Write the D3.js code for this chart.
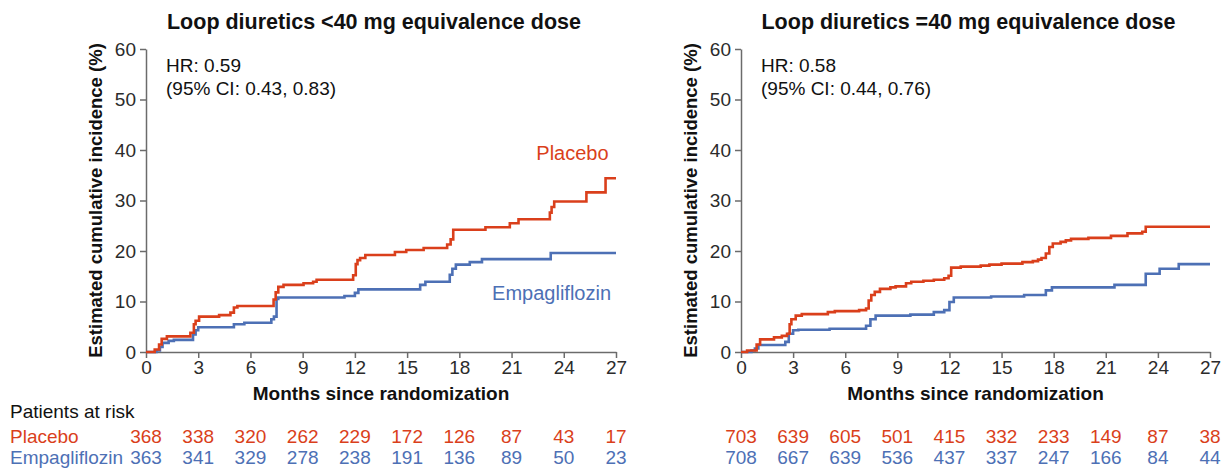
<!DOCTYPE html>
<html>
<head>
<meta charset="utf-8">
<script src="https://cdn.jsdelivr.net/npm/d3@7"></script>
<style>
  body { margin: 0; background: #fff; }
  svg { display: block; font-family: Arial, "Liberation Sans", sans-serif; }
  .axis path, .axis line { stroke: #6b6b6b; stroke-width: 1.5; }
  .axis text { fill: #2b2b2b; font-size: 19px; }
</style>
</head>
<body>
<div id="chart"></div>
<script>
// Panel titles and hazard ratios
const titles = ['Loop diuretics <40 mg equivalence dose', 'Loop diuretics =40 mg equivalence dose'];
const hrText = ['HR: 0.59', 'HR: 0.58'];
const ciText = ['(95% CI: 0.43, 0.83)', '(95% CI: 0.44, 0.76)'];

// Tick labels
const monthTicks = [0, 3, 6, 9, 12, 15, 18, 21, 24, 27];
const pctTicks = [0, 10, 20, 30, 40, 50, 60];

// Cumulative incidence steps: [month, %]
const leftPlacebo = [
  [0, 0], [0.5, 0.5], [0.75, 1.5], [0.9, 2.6], [1.2, 3.1], [2.55, 3.8], [2.75, 5.5], [2.85, 6.2],
  [3.05, 7.0], [4.2, 7.3], [4.85, 7.8], [5.05, 8.8], [5.25, 9.1], [7.33, 10.4], [7.45, 11.8],
  [7.6, 12.9], [7.9, 13.3], [9.05, 13.6], [9.6, 13.9], [9.8, 14.3], [11.9, 15.2], [12.05, 17.4],
  [12.15, 18.2], [12.3, 18.6], [12.6, 19.2], [14.3, 19.8], [14.95, 20.2], [15.95, 20.6],
  [17.3, 21.3], [17.5, 22.3], [17.65, 24.2], [19.5, 24.7], [20.9, 25.5], [21.4, 26.3],
  [23.2, 27.6], [23.3, 28.7], [23.45, 29.8], [25.3, 31.6], [26.4, 34.4], [27, 34.4]
];
const leftEmpa = [
  [0, 0], [0.6, 0.3], [0.8, 1.0], [0.95, 1.8], [1.3, 2.2], [1.6, 2.4], [2.7, 3.5], [2.85, 4.3],
  [3.0, 4.9], [5.05, 5.5], [5.65, 5.8], [7.2, 6.5], [7.35, 7.0], [7.5, 10.5], [7.6, 10.8],
  [11.4, 11.1], [12.0, 11.7], [12.2, 12.4], [15.75, 13.3], [16.05, 13.9], [17.45, 15.3],
  [17.6, 16.5], [17.8, 17.3], [18.6, 17.8], [19.3, 18.4], [23.25, 19.6], [27, 19.6]
];
const rightPlacebo = [
  [0, 0], [0.35, 0.3], [0.9, 1.5], [1.1, 2.5], [1.9, 2.9], [2.35, 3.2], [2.65, 3.6], [2.8, 5.5],
  [2.9, 6.5], [3.15, 7.2], [3.5, 7.5], [5.0, 7.9], [5.4, 8.1], [6.8, 8.3], [7.2, 8.6],
  [7.35, 10.2], [7.5, 11.3], [7.7, 11.9], [8.0, 12.5], [8.6, 12.8], [8.9, 13.0], [9.5, 13.6],
  [9.8, 13.9], [10.5, 14.1], [11.1, 14.3], [11.7, 14.6], [11.95, 15.1], [12.1, 16.7],
  [12.65, 16.9], [13.8, 17.1], [14.3, 17.3], [15.0, 17.5], [16.2, 17.8], [16.8, 18.0],
  [17.1, 18.3], [17.3, 18.6], [17.55, 19.5], [17.75, 20.8], [17.95, 21.5], [18.4, 21.8],
  [18.7, 22.1], [19.0, 22.4], [20.0, 22.6], [21.3, 23.0], [22.25, 23.5], [23.1, 23.8],
  [23.3, 24.8], [27, 24.8]
];
const rightEmpa = [
  [0, 0], [0.6, 0.3], [0.8, 0.7], [1.0, 1.4], [2.55, 2.0], [2.75, 3.6], [3.0, 4.3], [3.3, 4.4],
  [5.1, 4.6], [7.2, 5.2], [7.45, 6.5], [7.75, 7.2], [9.75, 7.4], [11.1, 7.9], [11.7, 8.3],
  [12.0, 9.9], [12.25, 10.8], [14.4, 11.0], [16.3, 11.3], [17.55, 12.2], [17.9, 12.8],
  [21.5, 13.3], [23.3, 15.5], [24.1, 16.5], [25.2, 17.4], [27, 17.4]
];

// Patients at risk at each month tick
const leftPlaceboRisk = [368, 338, 320, 262, 229, 172, 126, 87, 43, 17];
const leftEmpaRisk = [363, 341, 329, 278, 238, 191, 136, 89, 50, 23];
const rightPlaceboRisk = [703, 639, 605, 501, 415, 332, 233, 149, 87, 38];
const rightEmpaRisk = [708, 667, 639, 536, 437, 337, 247, 166, 84, 44];

const red = '#da3f1b';
const blue = '#4d70b5';

const width = 1229;
const height = 469;

const svg = d3.select('#chart')
  .append('svg')
  .attr('width', width)
  .attr('height', height);

const drawPanel = (p) => {
  const x = d3.scaleLinear().domain([0, 27]).range([p.left, p.right]);
  const y = d3.scaleLinear().domain([0, 60]).range([352, 49]);

  // Title
  svg.append('text')
    .attr('x', (p.left + p.right) / 2 - 7)
    .attr('y', 29)
    .attr('text-anchor', 'middle')
    .attr('font-size', 21.5)
    .attr('font-weight', 'bold')
    .attr('fill', '#111')
    .text(p.title);

  // Axes
  svg.append('g')
    .attr('class', 'axis')
    .attr('transform', 'translate(0,352)')
    .call(d3.axisBottom(x).tickValues(monthTicks).tickSize(6).tickPadding(3).tickSizeOuter(0));

  svg.append('g')
    .attr('class', 'axis')
    .attr('transform', `translate(${p.left},0)`)
    .call(d3.axisLeft(y).tickValues(pctTicks).tickSize(6).tickPadding(4).tickSizeOuter(0));

  // Axis titles
  svg.append('text')
    .attr('transform', `translate(${p.left - 44},${(352 + 49) / 2}) rotate(-90)`)
    .attr('text-anchor', 'middle')
    .attr('font-size', 18.5)
    .attr('font-weight', 'bold')
    .attr('fill', '#111')
    .text('Estimated cumulative incidence (%)');

  svg.append('text')
    .attr('x', (p.left + p.right) / 2)
    .attr('y', 400)
    .attr('text-anchor', 'middle')
    .attr('font-size', 19)
    .attr('font-weight', 'bold')
    .attr('fill', '#111')
    .text('Months since randomization');

  // HR annotation
  svg.append('text')
    .attr('x', p.left + 20)
    .attr('y', 72)
    .attr('font-size', 19)
    .attr('fill', '#111')
    .text(p.hr);
  svg.append('text')
    .attr('x', p.left + 20)
    .attr('y', 95)
    .attr('font-size', 19)
    .attr('fill', '#111')
    .text(p.ci);

  // Curves
  const line = d3.line()
    .x(d => x(d[0]))
    .y(d => y(d[1]))
    .curve(d3.curveStepAfter);

  [[p.empa, blue], [p.placebo, red]].forEach(([data, color]) => {
    svg.append('path')
      .attr('d', line(data))
      .attr('fill', 'none')
      .attr('stroke', color)
      .attr('stroke-width', 2.6);
  });

  if (p.labels) {
    svg.append('text')
      .attr('x', x(24.5))
      .attr('y', y(38))
      .attr('text-anchor', 'middle')
      .attr('font-size', 20)
      .attr('fill', red)
      .text('Placebo');
    svg.append('text')
      .attr('x', x(23.3))
      .attr('y', y(10.3))
      .attr('text-anchor', 'middle')
      .attr('font-size', 20)
      .attr('fill', blue)
      .text('Empagliflozin');
  }

  // Patients at risk
  [[p.placeboRisk, red, 443], [p.empaRisk, blue, 464]].forEach(([vals, color, ty]) => {
    svg.append('g')
      .selectAll('text')
      .data(vals)
      .join('text')
      .attr('x', (d, i) => x(monthTicks[i]))
      .attr('y', ty)
      .attr('text-anchor', 'middle')
      .attr('font-size', 19)
      .attr('fill', color)
      .text(d => d);
  });
};

drawPanel({
  left: 146, right: 616, title: titles[0], hr: hrText[0], ci: ciText[0],
  placebo: leftPlacebo, empa: leftEmpa,
  placeboRisk: leftPlaceboRisk, empaRisk: leftEmpaRisk, labels: true
});
drawPanel({
  left: 741, right: 1210, title: titles[1], hr: hrText[1], ci: ciText[1],
  placebo: rightPlacebo, empa: rightEmpa,
  placeboRisk: rightPlaceboRisk, empaRisk: rightEmpaRisk, labels: false
});

// Risk table row labels
svg.append('text').attr('x', 10).attr('y', 418).attr('font-size', 19).attr('fill', '#111').text('Patients at risk');
svg.append('text').attr('x', 10).attr('y', 443).attr('font-size', 19).attr('fill', red).text('Placebo');
svg.append('text').attr('x', 10).attr('y', 464).attr('font-size', 19).attr('fill', blue).text('Empagliflozin');
</script>
</body>
</html>
